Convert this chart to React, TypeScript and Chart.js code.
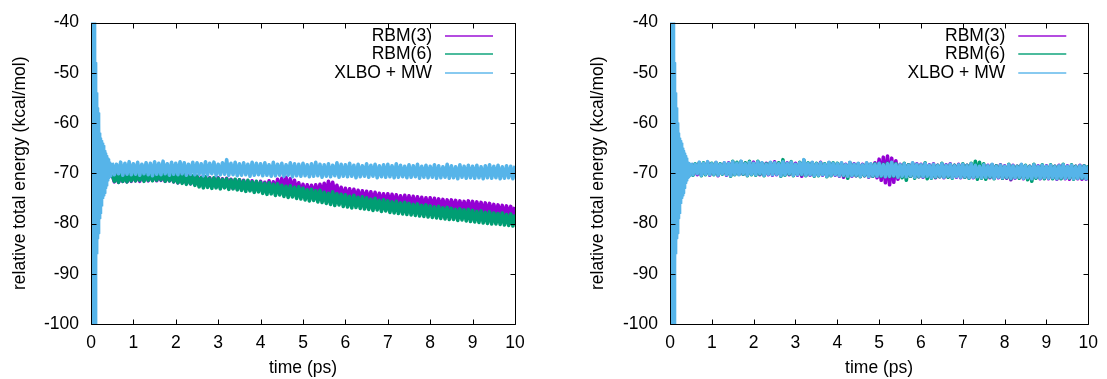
import React, { useEffect, useRef } from "react";
import { Chart, registerables } from "chart.js";

Chart.register(...registerables);

const FONT_FAMILY = '"Liberation Sans", Arial, Helvetica, sans-serif';
const FONT_SIZE = 17.5;

const xTicks = [0, 1, 2, 3, 4, 5, 6, 7, 8, 9, 10];
const yTicks = [-100, -90, -80, -70, -60, -50, -40];

const legendLabels = ["RBM(3)", "RBM(6)", "XLBO + MW"];
const seriesColors = ["#9400D3", "#009E73", "#56B4E9"];

// early transient (ps)
const tStart = [
  0.0, 0.01, 0.02, 0.03, 0.04, 0.05, 0.06, 0.07, 0.08, 0.09,
  0.1, 0.11, 0.12, 0.13, 0.14, 0.15, 0.16, 0.17, 0.18, 0.19,
  0.2, 0.21, 0.22, 0.23, 0.24, 0.25, 0.26, 0.27, 0.28, 0.29,
  0.3, 0.31, 0.32, 0.33, 0.34, 0.35, 0.36, 0.37, 0.38, 0.39,
  0.4, 0.41, 0.42, 0.43, 0.44, 0.45, 0.46, 0.47, 0.48, 0.49,
  0.5,
];
const xlboStart = [
  -70, -20, -120, -25, -115, -30, -118, -32, -112, -35,
  -108, -38, -102, -48, -90, -54, -86, -57, -83, -58,
  -82, -60, -79, -62, -78, -63, -76.5, -63.5, -76, -64,
  -75, -64.5, -74.5, -65, -74, -65.5, -73, -66, -72.5, -66.5,
  -72, -67, -71.5, -67.2, -71, -67.8, -70.8, -67.9, -70.6, -68.1,
  -70.4,
];

// main run (ps)
const tMain = [
  0.5, 0.55, 0.6, 0.65, 0.7, 0.75, 0.8, 0.85, 0.9, 0.95,
  1.0, 1.05, 1.1, 1.15, 1.2, 1.25, 1.3, 1.35, 1.4, 1.45,
  1.5, 1.55, 1.6, 1.65, 1.7, 1.75, 1.8, 1.85, 1.9, 1.95,
  2.0, 2.05, 2.1, 2.15, 2.2, 2.25, 2.3, 2.35, 2.4, 2.45,
  2.5, 2.55, 2.6, 2.65, 2.7, 2.75, 2.8, 2.85, 2.9, 2.95,
  3.0, 3.05, 3.1, 3.15, 3.2, 3.25, 3.3, 3.35, 3.4, 3.45,
  3.5, 3.55, 3.6, 3.65, 3.7, 3.75, 3.8, 3.85, 3.9, 3.95,
  4.0, 4.05, 4.1, 4.15, 4.2, 4.25, 4.3, 4.35, 4.4, 4.45,
  4.5, 4.55, 4.6, 4.65, 4.7, 4.75, 4.8, 4.85, 4.9, 4.95,
  5.0, 5.05, 5.1, 5.15, 5.2, 5.25, 5.3, 5.35, 5.4, 5.45,
  5.5, 5.55, 5.6, 5.65, 5.7, 5.75, 5.8, 5.85, 5.9, 5.95,
  6.0, 6.05, 6.1, 6.15, 6.2, 6.25, 6.3, 6.35, 6.4, 6.45,
  6.5, 6.55, 6.6, 6.65, 6.7, 6.75, 6.8, 6.85, 6.9, 6.95,
  7.0, 7.05, 7.1, 7.15, 7.2, 7.25, 7.3, 7.35, 7.4, 7.45,
  7.5, 7.55, 7.6, 7.65, 7.7, 7.75, 7.8, 7.85, 7.9, 7.95,
  8.0, 8.05, 8.1, 8.15, 8.2, 8.25, 8.3, 8.35, 8.4, 8.45,
  8.5, 8.55, 8.6, 8.65, 8.7, 8.75, 8.8, 8.85, 8.9, 8.95,
  9.0, 9.05, 9.1, 9.15, 9.2, 9.25, 9.3, 9.35, 9.4, 9.45,
  9.5, 9.55, 9.6, 9.65, 9.7, 9.75, 9.8, 9.85, 9.9, 9.95,
  10.0,
];

const xlboMain = [
  -67.9, -70.3, -68.2, -70.1, -67.8, -70.4, -68.0, -70.2, -67.7, -70.3,
  -68.1, -70.2, -67.8, -70.4, -68.2, -70.1, -67.9, -70.3, -68.0, -70.5,
  -67.7, -70.2, -68.0, -70.3, -67.6, -70.1, -68.1, -70.4, -67.8, -70.2,
  -68.0, -70.3, -67.7, -70.1, -67.9, -70.4, -68.2, -70.2, -67.8, -70.3,
  -67.9, -70.2, -68.1, -70.5, -67.7, -70.3, -68.0, -70.1, -67.8, -70.4,
  -68.2, -70.3, -67.9, -70.2, -67.3, -70.4, -68.0, -70.3, -67.8, -70.5,
  -68.1, -70.4, -67.9, -70.3, -68.2, -70.6, -67.8, -70.4, -68.0, -70.3,
  -68.1, -70.5, -67.9, -70.4, -68.3, -70.6, -67.8, -70.5, -68.2, -70.4,
  -68.0, -70.6, -68.3, -70.4, -67.9, -70.7, -68.1, -70.5, -68.2, -70.6,
  -68.0, -70.5, -68.3, -70.7, -68.1, -70.6, -67.8, -70.5, -68.2, -70.8,
  -68.3, -70.6, -68.1, -70.7, -68.4, -70.5, -67.9, -70.8, -68.2, -70.6,
  -68.3, -70.7, -68.0, -70.6, -68.4, -70.9, -68.2, -70.7, -68.5, -70.6,
  -68.1, -70.8, -68.4, -70.6, -68.2, -70.9, -68.5, -70.7, -68.3, -70.8,
  -68.2, -70.7, -68.5, -70.9, -68.1, -70.8, -68.4, -70.7, -68.6, -70.9,
  -68.3, -70.8, -68.5, -70.7, -68.2, -71.0, -68.6, -70.8, -68.4, -70.9,
  -68.6, -70.8, -68.3, -71.0, -68.5, -70.9, -68.7, -70.8, -68.2, -71.0,
  -68.5, -70.9, -68.7, -71.1, -68.3, -70.8, -68.6, -71.0, -68.4, -70.9,
  -68.6, -71.0, -68.4, -70.9, -68.7, -71.1, -68.5, -70.9, -68.3, -71.0,
  -68.6, -70.9, -68.4, -71.1, -68.7, -71.0, -68.5, -70.9, -68.6, -71.1,
  -68.5,
];

const rbm3Left = [
  -70.3, -71.7, -70.2, -71.8, -70.4, -71.6, -70.3, -71.7, -70.2, -71.6,
  -70.1, -71.5, -70.0, -71.6, -70.2, -71.4, -70.0, -71.5, -70.1, -71.4,
  -69.9, -71.5, -70.1, -71.4, -70.0, -71.6, -70.2, -71.5, -70.3, -71.7,
  -70.2, -71.9, -70.3, -71.8, -70.5, -72.0, -70.4, -72.1, -70.6, -72.2,
  -70.6, -72.4, -70.8, -72.5, -70.7, -72.6, -70.9, -72.5, -71.0, -72.7,
  -70.9, -72.8, -71.1, -72.7, -71.0, -72.9, -71.2, -73.0, -71.3, -73.1,
  -71.3, -73.1, -71.4, -73.2, -71.6, -73.3, -71.5, -73.4, -71.7, -73.5,
  -71.6, -73.5, -71.8, -73.4, -71.5, -73.6, -71.7, -73.5, -71.2, -73.4,
  -71.0, -73.3, -70.8, -73.2, -71.1, -73.5, -71.4, -73.8, -71.9, -74.0,
  -72.2, -74.1, -72.3, -74.2, -72.4, -74.3, -72.3, -74.2, -72.2, -74.4,
  -72.0, -74.1, -71.6, -73.9, -71.8, -74.2, -72.4, -74.6, -72.8, -74.8,
  -73.0, -75.0, -73.1, -74.9, -73.2, -75.1, -73.4, -75.3, -73.5, -75.4,
  -73.6, -75.5, -73.7, -75.6, -73.8, -75.7, -74.0, -75.8, -74.1, -75.9,
  -74.1, -76.0, -74.2, -76.1, -74.3, -76.2, -74.5, -76.3, -74.4, -76.4,
  -74.5, -76.4, -74.6, -76.5, -74.7, -76.6, -74.8, -76.7, -74.9, -76.8,
  -74.9, -76.8, -75.0, -76.9, -75.1, -77.0, -75.2, -77.1, -75.3, -77.2,
  -75.3, -77.2, -75.4, -77.3, -75.5, -77.4, -75.6, -77.5, -75.5, -77.6,
  -75.6, -77.6, -75.7, -77.7, -75.8, -77.8, -75.9, -77.9, -76.0, -77.9,
  -76.2, -78.1, -76.3, -78.2, -76.4, -78.3, -76.5, -78.4, -76.6, -78.4,
  -76.7,
];

const rbm6Left = [
  -70.3, -71.6, -70.4, -71.8, -70.2, -71.6, -70.5, -71.7, -70.3, -71.5,
  -70.1, -71.5, -70.2, -71.4, -70.0, -71.6, -70.1, -71.4, -69.9, -71.5,
  -69.8, -71.4, -70.0, -71.3, -69.9, -71.6, -70.1, -71.5, -70.2, -71.7,
  -70.2, -71.9, -70.4, -72.0, -70.3, -72.2, -70.6, -72.1, -70.5, -72.4,
  -70.6, -72.7, -70.9, -72.9, -70.7, -72.8, -71.0, -73.0, -70.9, -72.9,
  -71.0, -73.1, -71.2, -72.9, -71.1, -73.2, -71.3, -73.1, -71.2, -73.3,
  -71.3, -73.4, -71.5, -73.6, -71.4, -73.5, -71.7, -73.8, -71.6, -73.7,
  -71.8, -74.0, -72.0, -74.2, -71.9, -74.1, -72.2, -74.4, -72.1, -74.3,
  -72.4, -74.6, -72.6, -74.8, -72.5, -74.7, -72.8, -75.0, -72.7, -75.1,
  -73.0, -75.3, -73.3, -75.5, -73.2, -75.4, -73.5, -75.7, -73.4, -75.8,
  -73.8, -76.0, -74.0, -76.2, -73.7, -76.4, -74.1, -76.3, -74.2, -76.6,
  -74.3, -76.7, -74.6, -76.9, -74.4, -76.8, -74.8, -77.0, -74.7, -77.1,
  -74.9, -77.2, -75.2, -77.4, -75.0, -77.3, -75.4, -77.6, -75.3, -77.5,
  -75.5, -77.8, -75.7, -77.9, -75.6, -78.0, -75.9, -78.1, -75.8, -78.2,
  -76.0, -78.3, -76.2, -78.4, -76.1, -78.5, -76.4, -78.6, -76.3, -78.7,
  -76.5, -78.8, -76.7, -78.9, -76.6, -79.0, -76.9, -79.1, -76.8, -79.2,
  -77.0, -79.2, -77.2, -79.4, -77.1, -79.3, -77.3, -79.5, -77.2, -79.6,
  -77.4, -79.7, -77.6, -79.8, -77.5, -79.9, -77.8, -80.0, -77.7, -80.1,
  -77.9, -80.1, -78.0, -80.2, -77.9, -80.3, -78.2, -80.4, -78.1, -80.5,
  -78.2,
];

const rbm3Right = [
  -68.0, -70.2, -68.3, -70.3, -67.9, -70.3, -68.1, -70.1, -67.8, -70.4,
  -68.2, -70.1, -67.9, -70.5, -68.3, -70.0, -68.0, -70.4, -67.9, -70.4,
  -67.8, -70.1, -68.1, -70.2, -67.7, -70.2, -68.0, -70.3, -67.9, -70.1,
  -67.8, -70.2, -67.8, -70.3, -68.0, -70.3, -68.0, -70.3, -67.9, -70.4,
  -67.7, -70.3, -68.2, -70.4, -67.8, -70.2, -67.9, -70.3, -67.9, -70.3,
  -68.0, -70.4, -68.0, -70.6, -67.5, -70.3, -68.1, -70.4, -67.9, -70.4,
  -68.2, -70.3, -67.8, -70.4, -68.3, -70.5, -67.9, -70.3, -68.1, -70.4,
  -68.2, -70.6, -68.0, -70.8, -68.2, -70.5, -67.9, -70.6, -68.1, -70.5,
  -68.1, -70.5, -68.2, -70.5, -68.0, -70.8, -68.2, -70.6, -67.9, -70.9,
  -67.2, -71.4, -66.8, -71.9, -66.6, -72.3, -67.0, -71.8, -67.5, -71.2,
  -68.2, -70.7, -68.2, -70.6, -68.3, -70.6, -68.0, -70.7, -68.1, -70.7,
  -68.2, -70.8, -68.1, -70.7, -68.3, -70.8, -68.1, -70.9, -68.4, -70.7,
  -68.2, -70.9, -68.3, -70.7, -68.1, -70.8, -68.4, -70.8, -68.2, -70.9,
  -68.3, -70.8, -68.4, -70.8, -68.2, -70.9, -68.3, -70.8, -68.5, -70.8,
  -68.4, -70.9, -68.4, -70.9, -68.3, -70.9, -68.5, -70.9, -68.3, -71.0,
  -68.5, -71.0, -68.4, -71.3, -68.4, -71.0, -68.6, -70.9, -68.3, -71.1,
  -68.6, -71.0, -68.6, -71.0, -68.4, -70.9, -68.5, -71.1, -68.5, -71.0,
  -68.5, -71.1, -68.5, -71.0, -68.6, -71.2, -68.4, -71.0, -68.4, -71.1,
  -68.5, -71.2, -68.5, -71.0, -68.6, -71.1, -68.4, -71.2, -68.5, -71.2,
  -68.6,
];

const rbm6Right = [
  -68.1, -70.4, -68.1, -70.0, -68.0, -70.5, -67.9, -70.3, -67.9, -70.2,
  -68.0, -70.3, -68.0, -70.3, -68.1, -70.2, -68.1, -70.2, -68.1, -70.6,
  -67.6, -70.3, -67.8, -70.2, -67.7, -70.2, -67.9, -70.5, -67.6, -70.3,
  -68.1, -70.4, -67.6, -70.2, -68.0, -70.5, -68.1, -70.1, -67.9, -70.2,
  -68.0, -70.1, -67.9, -70.6, -67.3, -70.4, -68.1, -70.2, -67.7, -70.5,
  -68.3, -70.2, -67.8, -70.3, -67.4, -70.5, -67.9, -70.2, -67.9, -70.6,
  -68.0, -70.5, -68.0, -70.2, -68.1, -70.7, -67.9, -70.5, -67.9, -70.2,
  -68.0, -70.4, -68.0, -70.5, -68.4, -71.0, -67.9, -70.4, -68.3, -70.5,
  -68.1, -70.7, -68.4, -70.5, -68.0, -70.6, -68.2, -70.6, -68.1, -70.5,
  -68.1, -70.6, -68.2, -70.6, -68.0, -70.7, -67.9, -70.6, -68.1, -70.7,
  -68.4, -70.9, -68.0, -71.4, -68.3, -70.6, -68.0, -71.0, -68.3, -70.7,
  -68.4, -70.6, -67.9, -71.1, -68.5, -71.0, -68.3, -70.8, -68.4, -70.7,
  -68.0, -70.7, -68.5, -70.8, -68.3, -71.0, -68.4, -70.6, -68.4, -70.7,
  -68.1, -70.8, -68.4, -71.0, -68.0, -70.7, -67.6, -71.2, -67.8, -71.0,
  -68.1, -71.2, -68.6, -70.8, -68.3, -71.1, -68.5, -70.7, -68.4, -71.0,
  -68.7, -70.9, -68.2, -71.1, -68.6, -70.8, -68.6, -71.0, -68.3, -70.9,
  -68.4, -71.3, -68.6, -71.6, -68.2, -71.0, -68.7, -70.9, -68.3, -71.1,
  -68.7, -70.9, -68.3, -71.1, -68.6, -71.0, -68.6, -71.1, -68.2, -70.9,
  -68.7, -71.0, -68.3, -71.2, -68.6, -70.9, -68.6, -71.0, -68.5, -71.0,
  -68.4,
];

const font = { family: FONT_FAMILY, size: FONT_SIZE };

const boxPlugin = {
  id: "gnuBox",
  afterDatasetsDraw(chart: any) {
    const { ctx, chartArea: a, scales } = chart;
    const L = Math.round(a.left) + 0.5;
    const R = Math.round(a.right) + 0.5;
    const T = Math.round(a.top) + 0.5;
    const B = Math.round(a.bottom) + 0.5;
    ctx.save();
    ctx.strokeStyle = "#000";
    ctx.lineWidth = 1;
    ctx.beginPath();
    const tl = 5;
    scales.x.ticks.forEach((t: any) => {
      const px = Math.round(scales.x.getPixelForValue(t.value)) + 0.5;
      ctx.moveTo(px, B);
      ctx.lineTo(px, B - tl);
      ctx.moveTo(px, T);
      ctx.lineTo(px, T + tl);
    });
    scales.y.ticks.forEach((t: any) => {
      const py = Math.round(scales.y.getPixelForValue(t.value)) + 0.5;
      ctx.moveTo(L, py);
      ctx.lineTo(L + tl, py);
      ctx.moveTo(R, py);
      ctx.lineTo(R - tl, py);
    });
    ctx.rect(L, T, R - L, B - T);
    ctx.stroke();
    ctx.restore();
  },
};

const legendPlugin = {
  id: "gnuLegend",
  afterDraw(chart: any) {
    const { ctx, chartArea: a } = chart;
    ctx.save();
    ctx.font = `${FONT_SIZE}px ${FONT_FAMILY}`;
    ctx.textAlign = "right";
    ctx.textBaseline = "middle";
    legendLabels.forEach((lab, i) => {
      const yy = Math.round(a.top + 13.3 + i * 18.5);
      ctx.fillStyle = "#000";
      ctx.fillText(lab, a.right - 83, yy);
      ctx.strokeStyle = seriesColors[i];
      ctx.globalAlpha = 0.7;
      ctx.lineWidth = 2;
      ctx.beginPath();
      ctx.moveTo(a.right - 70, yy);
      ctx.lineTo(a.right - 22, yy);
      ctx.stroke();
      ctx.globalAlpha = 1;
    });
    ctx.restore();
  },
};

function pts(ts: number[], vs: number[]) {
  return ts.map((t, i) => ({ x: t, y: vs[i] }));
}

type PanelProps = {
  left: number;
  width: number;
  padLeft: number;
  padRight: number;
  yWidth: number;
  rbm3: number[];
  rbm6: number[];
};

function Panel({ left, width, padLeft, padRight, yWidth, rbm3, rbm6 }: PanelProps) {
  const ref = useRef<HTMLCanvasElement>(null);
  useEffect(() => {
    if (!ref.current) return;
    const common = {
      fill: false,
      pointRadius: 0,
      tension: 0,
      clip: 0,
      borderJoinStyle: "round",
    };
    const bw = 3.6;
    const chart = new Chart(ref.current, {
      type: "line",
      data: {
        datasets: [
          { ...common, label: "xlbo-start", data: pts(tStart, xlboStart), borderColor: seriesColors[2], borderWidth: 1.3 },
          { ...common, label: legendLabels[2], data: pts(tMain, xlboMain), borderColor: seriesColors[2], borderWidth: bw },
          { ...common, label: legendLabels[1], data: pts(tMain, rbm6), borderColor: seriesColors[1], borderWidth: bw },
          { ...common, label: legendLabels[0], data: pts(tMain, rbm3), borderColor: seriesColors[0], borderWidth: bw },
        ],
      } as any,
      options: {
        animation: false,
        responsive: false,
        maintainAspectRatio: false,
        devicePixelRatio: 1,
        layout: { padding: { left: padLeft, right: padRight, top: 19, bottom: 0 } },
        plugins: { legend: { display: false }, tooltip: { enabled: false } },
        scales: {
          x: {
            type: "linear",
            min: 0,
            max: 10,
            position: "bottom",
            afterBuildTicks: (s: any) => {
              s.ticks = xTicks.map((v) => ({ value: v }));
            },
            afterFit: (s: any) => {
              s.height = 55;
            },
            grid: { display: false, drawTicks: false },
            border: { display: false },
            ticks: { padding: 9, color: "#000", font, autoSkip: false, maxRotation: 0 },
            title: { display: true, text: "time (ps)", color: "#000", font, padding: { top: 0, bottom: 0 } },
          },
          y: {
            type: "linear",
            min: -100,
            max: -40,
            position: "left",
            afterBuildTicks: (s: any) => {
              s.ticks = yTicks.map((v) => ({ value: v }));
            },
            afterFit: (s: any) => {
              s.width = yWidth;
            },
            grid: { display: false, drawTicks: false },
            border: { display: false },
            ticks: { padding: 12, color: "#000", font, autoSkip: false },
            title: {
              display: true,
              text: "relative total energy (kcal/mol)",
              color: "#000",
              font,
              padding: { top: 9.5, bottom: 0 },
            },
          },
        },
      } as any,
      plugins: [boxPlugin, legendPlugin],
    });
    return () => chart.destroy();
  }, []);
  return (
    <canvas
      ref={ref}
      width={width}
      height={379}
      style={{ position: "absolute", left, top: 0, width, height: 379 }}
    />
  );
}

export default function App() {
  useEffect(() => {
    document.body.style.margin = "0";
  }, []);
  return (
    <div
      style={{
        position: "fixed",
        left: 0,
        top: 0,
        width: 1107,
        height: 379,
        background: "#fff",
        overflow: "hidden",
      }}
    >
      <Panel left={0} width={553} padLeft={0} padRight={38} yWidth={91} rbm3={rbm3Left} rbm6={rbm6Left} />
      <Panel left={553} width={554} padLeft={25} padRight={16} yWidth={92} rbm3={rbm3Right} rbm6={rbm6Right} />
    </div>
  );
}
